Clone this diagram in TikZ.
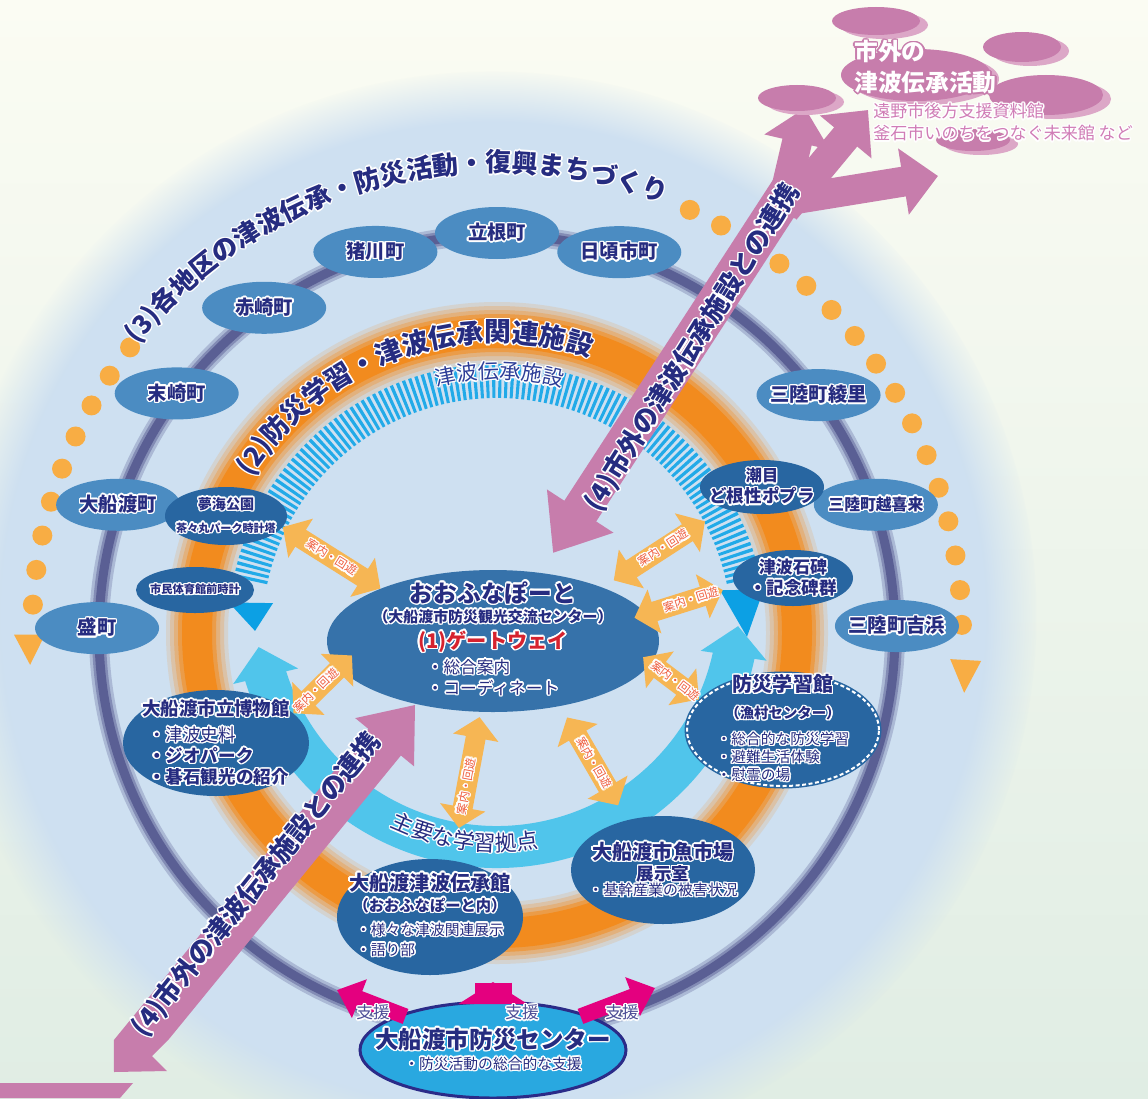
\documentclass[tikz,border=0pt]{standalone}
\usepackage{fontspec}
\setmainfont{Noto Sans CJK JP}
\usepackage{contour}
\contourlength{0.8pt}
\usetikzlibrary{
    positioning,
    shapes.geometric,
    arrows.meta,
    decorations.text,
    fadings,
    bending
    }

\newdimen\pxu
\pxu=0.02cm

\definecolor{bgcream}{HTML}{FBFCF3}
\definecolor{bggreen}{HTML}{E0EDE4}
\definecolor{glowblue}{HTML}{CEE0F1}
\definecolor{ringgray}{HTML}{5A5F94}
\definecolor{ringorange}{HTML}{F28B1E}
\definecolor{dotorange}{HTML}{F8AD44}
\definecolor{hatchblue}{HTML}{22AAE8}
\definecolor{hatchhead}{HTML}{0CA0E4}
\definecolor{bandcyan}{HTML}{50C5EB}
\definecolor{villageblue}{HTML}{4B8CC2}
\definecolor{siteblue}{HTML}{2866A1}
\definecolor{gateblue}{HTML}{3672AA}
\definecolor{navy}{HTML}{262C80}
\definecolor{textblue}{HTML}{2D3E98}
\definecolor{gatered}{HTML}{D6222E}
\definecolor{linkpink}{HTML}{C77DAC}
\definecolor{linkpinklight}{HTML}{DCA7C7}
\definecolor{linkpinktext}{HTML}{D07CB6}
\definecolor{guideorange}{HTML}{F6B654}
\definecolor{guidetext}{HTML}{EF5A3B}
\definecolor{supportmag}{HTML}{E4007F}
\definecolor{centercyan}{HTML}{29A8E0}
\definecolor{centerrim}{HTML}{2B2B88}
\definecolor{supporttext}{HTML}{4D4D96}

\newcommand{\wt}[1]{\contour{white}{#1}}
\newcommand{\wpk}[1]{\contour{linkpink}{#1}}
% text on an arc, with a white rim
\newcommand{\arclabel}[6]{%
    \foreach \sh in {0,45,...,315}
        \path [decorate, decoration={text along path, text align=center,
                text={|#5\color{white}|#6}}]
            ([shift={(\sh:0.8pt)}, shift={(#3:#2)}]#1) arc [start angle=#3, end angle=#4, radius=#2];
    \path [decorate, decoration={text along path, text align=center,
            text={|#5|#6}}]
        ([shift={(#3:#2)}]#1) arc [start angle=#3, end angle=#4, radius=#2];
}

\begin{document}
\begin{tikzpicture}[x=0.02cm, y=0.02cm]
\tikzset{village/.style =
        {
            ellipse,
            fill=villageblue,
            minimum width=124\pxu,
            minimum height=52\pxu,
            inner sep=-20pt,
            text=navy
        }
}

\tikzset{site/.style =
        {
            ellipse,
            fill=siteblue,
            inner sep=-30pt,
            text=navy,
            align=center,
            font=\bfseries
        }
}

\tikzset{gate/.style =
        {
            site,
            fill=gateblue
        }
}

\tikzset{guide/.style = {
            draw=guideorange,
            line width=0.4cm,
            arrows={Triangle[width=0.9cm 0, length=0.42cm 0]-Triangle[width=0.9cm 0, length=0.42cm 0]}
        }
}

\tikzset{guidelabel/.style = {
            text=guidetext,
            inner sep=0pt,
            font=\fontsize{6.5}{7}\selectfont
        }
}

\tikzset{support/.style = {
            draw=supportmag,
            line width=0.32cm,
            -{Triangle[width=0.8cm 0, length=0.48cm 0]}
        }
}

\tikzset{supportbig/.style = {
            support,
            line width=0.74cm,
            -{Triangle[width=1.36cm 0, length=0.44cm 0]}
        }
}

\tikzset{linktext/.style = {
            text=navy,
            inner sep=0pt,
            font=\fontsize{15}{15}\selectfont\bfseries
        }
}

\useasboundingbox (0,0) rectangle (1148,-1098);
\shade [top color=bgcream, bottom color=bggreen] (0,0) rectangle (1148,-1098);

\coordinate (ctr) at (497,-633);
\coordinate (cctr) at (497,-605);
\coordinate (glow) at (493,-615);

\fill [glowblue, path fading=circle with fuzzy edge 10 percent] (glow) circle [radius=545];

% rings
\foreach \w / \c in {20/30, 14/65, 9/100}
    \draw [line width=\w\pxu, ringgray!\c!glowblue] (ctr) circle [radius=398];
\foreach \w / \c in {62/15, 54/35, 46/55, 38/80, 30/100}
    \draw [line width=\w\pxu, ringorange!\c!glowblue] (ctr) circle [radius=300];

% dotted arc
\begin{scope}[shift={(ctr)}]
    \foreach \a in {142.1,146.4,...,176.6}
        \fill [dotorange] (\a:465) circle [radius=10];
    \foreach \a in {1,5.3,...,65.6}
        \fill [dotorange] (\a:465) circle [radius=10];
    \fill [dotorange] (180.2:452) -- (180.2:483) -- (183.9:468) -- cycle;
    \fill [dotorange] (-3.3:454) -- (-3.3:485) -- (-7.3:471) -- cycle;
\end{scope}
\arclabel{ctr}{461}{160}{50}{\fontsize{14.8}{15}\selectfont\bfseries\color{navy}}{(3)各地区の津波伝承・防災活動・復興まちづくり}

% hatched arc
\draw [hatchblue, line width=34\pxu, dash pattern=on 1.8pt off 1.7pt]
    ([shift={(168:252)}]ctr) arc [start angle=168, end angle=12, radius=252];
\begin{scope}[shift={(ctr)}]
    \fill [hatchhead] (173.5:270) -- (172.4:226) -- (179.5:242) -- cycle;
    \fill [hatchhead] (10.9:227) -- (9.2:270) -- (-0.9:250) -- cycle;
\end{scope}
\arclabel{ctr}{254}{135}{44}{\fontsize{12}{12}\selectfont\color{textblue}}{津波伝承施設}

% learning band
\draw [bandcyan, line width=42\pxu,
    arrows={Triangle[width=1.3cm 0, length=0.6cm 0]-Triangle[width=1.3cm 0, length=0.6cm 0]}]
    ([shift={(190:242)}]cctr) arc [start angle=190, end angle=355, radius=242];
\arclabel{cctr}{246}{222}{302}{\fontsize{12.4}{13}\selectfont\color{navy}}{主要な学習拠点}

\arclabel{ctr}{291}{165}{54}{\fontsize{15.3}{16}\selectfont\bfseries\color{navy}}{(2)防災学習・津波伝承関連施設}

% links outside the city
\fill [linkpink] (415,-705) -- (414,-766.3) -- (400.9,-755.5) -- (168.2,-1040) -- (152,-1056)
    -- (167,-1071) -- (114,-1072) -- (113.9,-1040) -- (368.4,-728.9) -- (355.2,-718.1) -- cycle;
\draw [linkpink, line width=38\pxu, -{Triangle[width=1.52cm 0, length=1cm 0]}] (789,-190) -- (553,-553);
\draw [linkpink, line width=30\pxu, -{Triangle[width=1.3cm 0, length=0.7cm 0]}] (780,-215) -- (805,-108);
\draw [linkpink, line width=30\pxu, -{Triangle[width=1.3cm 0, length=0.7cm 0]}] (785,-210) -- (868,-110);
\draw [linkpink, line width=30\pxu, -{Triangle[width=1.3cm 0, length=0.7cm 0]}] (790,-200) -- (938,-176);
\fill [linkpink] (0,-1083) -- (133,-1083) -- (120,-1098) -- (0,-1098) -- cycle;

\node [linktext, rotate=51.3] (linkleft) at (257,-885) {\wt{(4)市外の津波伝承施設との連携}};
\node [linktext, rotate=58] (linkright) at (693,-348) {\wt{(4)市外の津波伝承施設との連携}};

% outside activities
\foreach \cx / \cy / \rx / \ry in {876/21/44/14, 1022/47/39/15, 797/98/39/13, 916/75/75/26, 1046/95/57/20, 973/140/37/11}
{
    \fill [linkpinklight] (\cx+8,-\cy-4) ellipse [x radius=\rx, y radius=\ry];
    \fill [linkpink] (\cx,-\cy) ellipse [x radius=\rx, y radius=\ry];
}
\node [anchor=north west, align=left, text=white, inner sep=0pt,
    font=\fontsize{13.5}{17.6}\selectfont\bfseries] (extitle) at (854,-40)
    {\wpk{市外の}\\\wpk{津波伝承活動}};
\node [anchor=north west, align=left, text=linkpinktext, inner sep=0pt,
    font=\fontsize{9.7}{12.5}\selectfont] (exsub) at (873,-103)
    {\wt{遠野市後方支援資料館}\\\wt{釜石市いのちをつなぐ未来館 など}};

% districts
\begin{scope}[shift={(ctr)}]
    \foreach \name / \ang / \fs / \txt in
        {tatsune/90/11/立根町,
            ikawa/107.7/11/猪川町,
            hikoichi/72.2/11/日頃市町,
            akasaki/125.6/11/赤崎町,
            massaki/143.2/11/末崎町,
            ofunato/161.3/11/大船渡町,
            sakari/179.3/11/盛町,
            ryori/36.5/11/三陸町綾里,
            okirai/18.7/9/三陸町越喜来,
            yoshihama/1/11/三陸町吉浜}
        \node [village, font=\fontsize{\fs}{12}\selectfont\bfseries] (\name) at (\ang:400) {\wt{\txt}};
\end{scope}

% facilities
\node [site, minimum width=122\pxu, minimum height=58\pxu] (yume) at (226,-516)
    {\fontsize{8}{9}\selectfont\wt{夢海公園}\\[1pt]\fontsize{6.3}{9}\selectfont\wt{茶々丸パーク時計塔}};
\node [site, minimum width=118\pxu, minimum height=46\pxu] (taiiku) at (195,-590)
    {\fontsize{6.4}{8}\selectfont\wt{市民体育館前時計}};
\node [site, minimum width=124\pxu, minimum height=54\pxu] (shiome) at (762,-487)
    {\fontsize{9.2}{12}\selectfont\wt{潮目}\\\wt{ど根性ポプラ}};
\node [site, minimum width=120\pxu, minimum height=56\pxu] (sekihi) at (793,-578)
    {\fontsize{9.7}{11.4}\selectfont\wt{津波石碑}\\\wt{・記念碑群}};
\node [site, minimum width=186\pxu, minimum height=106\pxu, align=left] (museum) at (216,-743)
    {\fontsize{10.5}{11.4}\selectfont\wt{大船渡市立博物館}\\[2.8pt]
        \mdseries\fontsize{10}{11.4}\selectfont\hspace*{6\pxu}\wt{・津波史料}\\
        \hspace*{6\pxu}\wt{・ジオパーク}\\
        \hspace*{6\pxu}\wt{・碁石観光の紹介}};
\node [site, minimum width=192\pxu, minimum height=112\pxu, draw=siteblue, line width=5\pxu,
    postaction={draw=white, dash pattern=on 4\pxu off 2.5\pxu, line width=2\pxu}] (bousai) at (783,-730)
    {\fontsize{11.4}{10.2}\selectfont\wt{防災学習館}\\[3.4pt]
        \fontsize{8.2}{10.2}\selectfont\wt{（漁村センター）}\\[2.8pt]
        \mdseries\fontsize{8.4}{10.2}\selectfont
        \begin{tabular}[t]{@{}l@{}}\wt{・総合的な防災学習}\\\wt{・避難生活体験}\\\wt{・慰霊の場}\end{tabular}};
\node [site, minimum width=184\pxu, minimum height=108\pxu] (ichiba) at (663,-870)
    {\fontsize{11.5}{13.6}\selectfont\wt{大船渡市魚市場}\\\wt{展示室}\\[-3.4pt]
        \mdseries\fontsize{8.5}{13.6}\selectfont\wt{・基幹産業の被害状況}};
\node [site, minimum width=186\pxu, minimum height=116\pxu] (densho) at (430,-917)
    {\fontsize{11.5}{11.4}\selectfont\wt{大船渡津波伝承館}\\
        \fontsize{8.7}{11.4}\selectfont\wt{（おおふなぽーと内）}\\[1.6pt]
        \mdseries\fontsize{8.4}{11.4}\selectfont
        \begin{tabular}[t]{@{}l@{}}\wt{・様々な津波関連展示}\\\wt{・語り部}\end{tabular}};
\node [gate, minimum width=332\pxu, minimum height=142\pxu] (gate) at (493,-641)
    {\fontsize{13.5}{12}\selectfont\wt{おおふなぽーと}\\[-0.6pt]
        \fontsize{8.5}{12}\selectfont\wt{（大船渡市防災観光交流センター）}\\[2.8pt]
        \fontsize{11.5}{12}\selectfont\textcolor{gatered}{\wt{(1)ゲートウェイ}}\\[2.2pt]
        \mdseries\fontsize{9.5}{12}\selectfont
        \begin{tabular}[t]{@{}l@{}}\wt{・総合案内}\\\wt{・コーディネート}\end{tabular}};
\node [site, fill=centercyan, draw=centerrim, line width=3\pxu,
    minimum width=266\pxu, minimum height=96\pxu] (bcenter) at (493,-1050)
    {\fontsize{13.4}{16.5}\selectfont\wt{大船渡市防災センター}\\
        \mdseries\fontsize{8.4}{16.5}\selectfont\wt{・防災活動の総合的な支援}};

% guidance between the gateway and the sites
\draw [guide] (gate.155) -- node [guidelabel, sloped] {\wt{案内・回遊}} (yume.-11);
\draw [guide, shorten <=13\pxu, shorten >=23\pxu] (gate.26) -- node [guidelabel, sloped] {\wt{案内・回遊}} (shiome.210);
\draw [guide, shorten <=-13\pxu, shorten >=13\pxu] (gate.10) -- node [guidelabel, sloped] {\wt{案内・回遊}} (sekihi.188);
\draw [guide, shorten <=-10\pxu] (gate.-8) -- node [guidelabel, sloped] {\wt{案内・回遊}} (bousai.160);
\draw [guide, shorten <=-18\pxu] (gate.190) -- node [guidelabel, sloped] {\wt{案内・回遊}} (museum.21);
\draw [guide, shorten <=5\pxu, shorten >=33\pxu] (gate.260) -- node [guidelabel, sloped] {\wt{案内・回遊}} (densho.68);
\draw [guide, shorten <=13\pxu, shorten >=17\pxu] (gate.-44) -- node [guidelabel, sloped] {\wt{案内・回遊}} (ichiba.126);

% support from the disaster prevention centre
\coordinate (supl) at (337,-990);
\coordinate (supm) at (493,-982);
\coordinate (supr) at (655,-988);
\draw [support, shorten <=-6\pxu] (bcenter.159) -- (supl);
\draw [supportbig, shorten <=-18\pxu] (bcenter.90) -- (supm);
\draw [support, shorten <=-6\pxu] (bcenter.21) -- (supr);
\foreach \name / \x in {supl-text/373, supm-text/522, supr-text/622}
    \node [text=supporttext, inner sep=0pt, font=\fontsize{9.5}{10}\selectfont] (\name) at (\x,-1013) {\wt{支援}};

\end{tikzpicture}
\end{document}
